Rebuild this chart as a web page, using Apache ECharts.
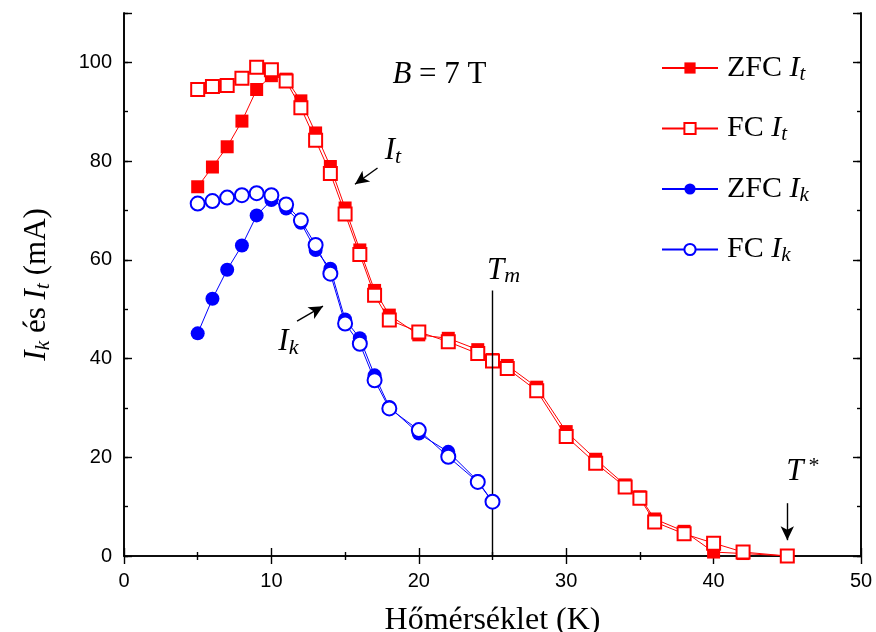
<!DOCTYPE html>
<html>
<head>
<meta charset="utf-8">
<script src="https://cdn.jsdelivr.net/npm/echarts@6/dist/echarts.min.js"></script>
<style>html,body{margin:0;padding:0;background:#fff}#c{width:876px;height:632px}</style>
</head>
<body>
<div id="c"></div>
<script>
// ---- data ----
const tempIt = [5,6,7,8,9,10,11,12,13,14,15,16,17,18,20,22,24,25,26,28,30,32,34,35,36,38,40,42,45];
const zfcIt  = [74.8,78.8,82.9,88.1,94.5,97.3,96.6,92.2,85.7,78.9,70.5,62.0,53.8,48.8,44.8,44.1,41.8,39.8,38.6,34.2,25.2,19.6,14.4,12.0,7.5,5.0,0.8,0.5,0];
const fcIt   = [94.5,95.1,95.3,96.8,99.0,98.5,96.2,90.8,84.2,77.5,69.3,61.1,52.8,47.8,45.4,43.4,41.0,39.5,38.0,33.5,24.2,18.8,14.0,11.7,6.9,4.5,2.6,0.8,0];
const tempIk = [5,6,7,8,9,10,11,12,13,14,15,16,17,18,20,22,24,25];
const zfcIk  = [45.1,52.1,58.0,62.9,69.0,72.1,70.4,67.5,62.0,58.2,47.9,44.1,36.6,30.2,24.8,21.1,15.2,11.0];
const fcIk   = [71.4,71.9,72.6,73.1,73.5,73.1,71.2,68.0,63.0,57.2,47.1,43.0,35.6,29.9,25.5,20.1,15.0,11.0];
const seriesNames = ['ZFC It','FC It','ZFC Ik','FC Ik'];
const xTicks = [0,10,20,30,40,50];
const yTicks = [0,20,40,60,80,100];
const Tm = 25, TmTop = 53.8;
const Tstar = 45;

const pairs = (xs, ys) => xs.map((x, i) => [x, ys[i]]);
const SERIF = '"Liberation Serif","Times New Roman",serif';
const SANS = '"Liberation Sans",Arial,sans-serif';
const RED = '#ff0000', BLUE = '#0000ff';

function rich(size) {
  const lh = Math.round(size * 1.1);
  return {
    n: {fontFamily: SERIF, fontSize: size, color: '#000', lineHeight: lh},
    i: {fontFamily: SERIF, fontSize: size, fontStyle: 'italic', color: '#000', lineHeight: lh},
    s: {fontFamily: SERIF, fontSize: Math.round(size*0.7), fontStyle: 'italic', color: '#000', lineHeight: Math.round(size*0.42), verticalAlign: 'bottom'},
    p: {fontFamily: SERIF, fontSize: Math.round(size*0.72), color: '#000', lineHeight: Math.round(size*0.5), verticalAlign: 'top', padding: [0, 0, 0, 5]}
  };
}
const legendText = {
  'ZFC It': '{n|ZFC }{i|I}{s|t}',
  'FC It': '{n|FC }{i|I}{s|t}',
  'ZFC Ik': '{n|ZFC }{i|I}{s|k}',
  'FC Ik': '{n|FC }{i|I}{s|k}'
};

const chart = echarts.init(document.getElementById('c'), null, {renderer: 'canvas'});

const axisLine = {show: true, lineStyle: {color: '#000', width: 1.6}};
function yAx(pos, interval, len, labels) {
  return {
    type: 'value', position: pos, min: 0, max: 110, interval: interval,
    axisLine: axisLine,
    axisTick: {show: true, inside: true, length: len, lineStyle: {color: '#000', width: 1.4}},
    axisLabel: labels ? {
      show: true, fontFamily: SANS, fontSize: 20, color: '#000', margin: 12,
      formatter: v => (yTicks.indexOf(v) >= 0 ? String(v) : '')
    } : {show: false},
    splitLine: {show: false},
    name: labels ? '{i|I}{s|k}{n| és }{i|I}{s|t}{n| (mA)}' : '',
    nameLocation: 'middle', nameGap: 70, nameRotate: 90,
    nameTextStyle: {rich: rich(31)}
  };
}
function xAx(pos, labels) {
  return {
    type: 'value', position: pos, min: 0, max: 50, interval: 10,
    axisLine: axisLine,
    axisTick: {show: true, inside: true, length: 8, lineStyle: {color: '#000', width: 1.4}},
    minorTick: {show: true, splitNumber: 2, length: 4, lineStyle: {color: '#000', width: 1.4}},
    axisLabel: labels ? {show: true, fontFamily: SANS, fontSize: 20, color: '#000', margin: 15,
      formatter: v => (xTicks.indexOf(v) >= 0 ? String(v) : '')} : {show: false},
    splitLine: {show: false},
    name: labels ? 'Hőmérséklet (K)' : '',
    nameLocation: 'middle', nameGap: 49,
    nameTextStyle: {fontFamily: SERIF, fontSize: 32, color: '#000'}
  };
}

const option = {
  animation: false,
  backgroundColor: '#fff',
  grid: {left: 124, right: 15, top: 13, bottom: 76, containLabel: false, outerBoundsMode: 'none'},
  xAxis: [xAx('bottom', true), xAx('top', false)],
  yAxis: [yAx('left', 10, 4, true), yAx('left', 20, 8, false), yAx('right', 10, 4, false), yAx('right', 20, 8, false)],
  legend: {
    orient: 'vertical', left: 661, top: 53, itemGap: 29, padding: 0,
    itemWidth: 56, itemHeight: 14,
    data: seriesNames,
    formatter: name => legendText[name],
    textStyle: {rich: rich(30), padding: [0, 0, 0, 4]}
  },
  series: [
    {
      name: seriesNames[0], type: 'line', data: pairs(tempIt, zfcIt),
      symbol: 'rect', symbolSize: 13, z: 2,
      lineStyle: {color: RED, width: 1}, itemStyle: {color: RED}
    },
    {
      name: seriesNames[1], type: 'line', data: pairs(tempIt, fcIt),
      symbol: 'emptyRect', symbolSize: 13, z: 3,
      lineStyle: {color: RED, width: 1}, itemStyle: {color: RED, borderWidth: 1.6},
      markLine: {
        silent: true, animation: false,
        label: {show: false},
        lineStyle: {color: '#000', width: 1.4, type: 'solid'},
        symbolSize: [10, 14],
        data: [
          [{coord: [Tm, 0], symbol: 'none'}, {coord: [Tm, TmTop], symbol: 'none'}],
          [{coord: [17.2, 78.6], symbol: 'none'}, {coord: [15.67, 75.3], symbol: 'arrow'}],
          [{coord: [11.74, 47.6], symbol: 'none'}, {coord: [13.5, 50.6], symbol: 'arrow'}],
          [{coord: [Tstar, 10.7], symbol: 'none'}, {coord: [Tstar, 3.2], symbol: 'arrow'}]
        ]
      }
    },
    {
      name: seriesNames[2], type: 'line', data: pairs(tempIk, zfcIk),
      symbol: 'circle', symbolSize: 14, z: 4,
      lineStyle: {color: BLUE, width: 1}, itemStyle: {color: BLUE}
    },
    {
      name: seriesNames[3], type: 'line', data: pairs(tempIk, fcIk),
      symbol: 'emptyCircle', symbolSize: 14, z: 5,
      lineStyle: {color: BLUE, width: 1}, itemStyle: {color: BLUE, borderWidth: 1.6}
    }
  ]
};
chart.setOption(option);

function px(x, y) { return chart.convertToPixel({xAxisIndex: 0, yAxisIndex: 0}, [x, y]); }
const notes = [
  {at: [21.4, 97.4], text: '{i|B}{n| = 7 T}', size: 31},
  {at: [18.25, 82.0], text: '{i|I}{s|t}', size: 31},
  {at: [11.15, 43.3], text: '{i|I}{s|k}', size: 31},
  {at: [25.75, 57.8], text: '{i|T}{s|m}', size: 31},
  {at: [46.05, 17.0], text: '{i|T}{p|*}', size: 31}
];
chart.setOption({
  graphic: notes.map(n => {
    const p = px(n.at[0], n.at[1]);
    return {
      type: 'text', x: p[0], y: p[1], silent: true,
      style: {text: n.text, rich: rich(n.size), align: 'center', verticalAlign: 'middle'}
    };
  })
});
</script>
</body>
</html>
